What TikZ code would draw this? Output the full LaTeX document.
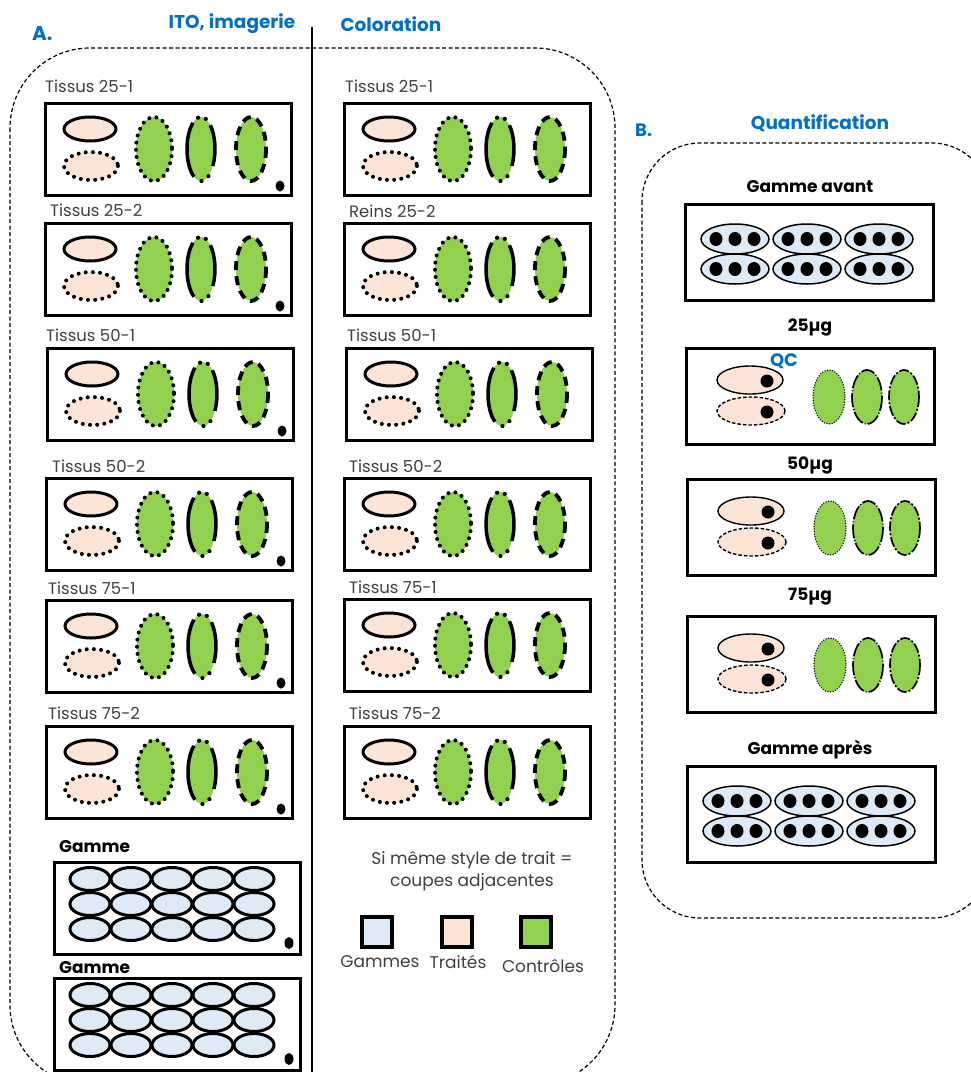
\documentclass[tikz,border=0pt]{standalone}
\usepackage{fontspec}
\setmainfont{Poppins}
\definecolor{pinkc}{HTML}{FCE4D6}
\definecolor{greenc}{HTML}{92D050}
\definecolor{bluec}{HTML}{DEEBF7}
\definecolor{titleblue}{HTML}{0070C0}
\definecolor{textgray}{HTML}{404040}
\newcommand{\midgreen}[1]{%
\fill[greenc] (#1) ellipse [x radius=14, y radius=32];
\draw[line width=3.5pt] (#1) ++(120:14 and 32) arc [start angle=120, end angle=235, x radius=14, y radius=32];
\draw[line width=3.5pt] (#1) ++(-48:14 and 32) arc [start angle=-48, end angle=32, x radius=14, y radius=32];
\foreach \ang in {58,88,258,290}{\fill (#1) ++(\ang:14 and 32) circle [radius=2.1];}}
\newcommand{\tslide}[4]{%
\begin{scope}[shift={(#1,#2)}]
\node[boxnode, minimum width=246pt, minimum height=92pt] (#4) at (0,0) {};
\draw[pinkE, solidT] (46,27) ellipse [x radius=26, y radius=12];
\draw[pinkE, dotT] (47,64) ellipse [x radius=27, y radius=14];
\draw[greenE, dotT] (110,47) ellipse [x radius=18, y radius=32];
\midgreen{157,47}
\draw[greenE, dashT] (207,47) ellipse [x radius=15, y radius=32];
\ifnum#3=1 \fill (236,84) ellipse [x radius=4.5, y radius=5.5];\fi
\end{scope}}
\newcommand{\gslide}[3]{%
\begin{scope}[shift={(#1,#2)}]
\node[boxnode, minimum width=246pt, minimum height=92pt] (#3) at (0,0) {};
\foreach \cx in {37,78,119,160,201}{\foreach \cy in {18,43,68}{
\draw[blueE, line width=3pt] (\cx,\cy) ellipse [x radius=20, y radius=11.5];}}
\fill (236,82) ellipse [x radius=4.5, y radius=6];
\end{scope}}
\newcommand{\qslide}[3]{%
\begin{scope}[shift={(#1,#2)}]
\node[boxnode, minimum width=248pt, minimum height=96pt] (#3) at (0,0) {};
\draw[pinkE, line width=1.4pt] (65,33) ellipse [x radius=33, y radius=14];
\draw[pinkE, line width=1.4pt, dash pattern=on 3.5pt off 2pt] (66,64) ellipse [x radius=34, y radius=14];
\fill (82,34) circle [radius=6.5];
\fill (82,65) circle [radius=6.5];
\draw[greenE, line width=1.5pt, dash pattern=on 0pt off 2.6pt, line cap=round] (144,50) ellipse [x radius=16, y radius=27];
\draw[greenE, line width=1.7pt, dash pattern=on 14pt off 2pt on 1pt off 2pt] (182,50) ellipse [x radius=15, y radius=27];
\draw[greenE, line width=1.7pt, dash pattern=on 10pt off 2pt on 2pt off 2pt] (219,50) ellipse [x radius=15, y radius=27];
\end{scope}}
\newcommand{\rslide}[3]{%
\begin{scope}[shift={(#1,#2)}]
\node[boxnode, minimum width=248pt, minimum height=96pt] (#3) at (0,0) {};
\foreach \cx in {51,123,195}{\foreach \cy in {36,66}{
\draw[blueE, line width=1.5pt] (\cx,\cy) ellipse [x radius=34, y radius=15];
\foreach \dx in {-19,0,19}{\fill (\cx+\dx,\cy) ellipse [x radius=6.5, y radius=7];}}}
\end{scope}}
\begin{document}
\begin{tikzpicture}[x=1pt,y=-1pt,
 boxnode/.style={draw=black, line width=2.6pt, anchor=north west, inner sep=0pt, fill=white},
 pinkE/.style={fill=pinkc, draw=black},
 greenE/.style={fill=greenc, draw=black},
 blueE/.style={fill=bluec, draw=black},
 solidT/.style={line width=3pt},
 dotT/.style={line width=4pt, dash pattern=on 0pt off 7.2pt, line cap=round},
 dashT/.style={line width=3.8pt, dash pattern=on 9pt off 6pt},
 lab/.style={font=\fontsize{16.5}{19}\selectfont, text=textgray, inner sep=0pt, anchor=west},
 leg/.style={font=\fontsize{17}{20}\selectfont, text=textgray, inner sep=0pt},
 blab/.style={font=\fontsize{17}{20}\selectfont\bfseries, text=black, inner sep=0pt},
 ttl/.style={font=\fontsize{18.5}{22}\selectfont\bfseries, text=titleblue, inner sep=0pt},
 panel/.style={draw=black, line width=1.2pt, dash pattern=on 4pt off 2.5pt}]
\useasboundingbox (0,0) rectangle (971,1072);
\clip (0,0) rectangle (971,1072);
\fill[white] (0,0) rectangle (971,1072);
% panels
\draw[panel, rounded corners=80pt] (10,48) rectangle (615,1085);
\draw[panel, rounded corners=58pt] (642,143) rectangle (990,918);
\coordinate (divtop) at (312,27);
\coordinate (divbot) at (312,1072);
\draw[line width=1.4pt] (divtop) -- (divbot);
% titles
\node[ttl, anchor=west, font=\fontsize{20}{24}\selectfont\bfseries] (tA) at (32,34) {A.};
\node[ttl] (tito) at (232,24) {ITO, imagerie};
\node[ttl] (tcol) at (391,24) {Coloration};
\node[ttl, anchor=west, font=\fontsize{18}{22}\selectfont\bfseries] (tB) at (635,130) {B.};
\node[ttl] (tq) at (820,123) {Quantification};
% left column
\node[lab] (l1) at (45,86) {Tissus 25-1};
\tslide{44}{102}{1}{bl1}
\node[lab] (l2) at (50,210) {Tissus 25-2};
\tslide{44}{222}{1}{bl2}
\node[lab] (l3) at (46,335) {Tissus 50-1};
\tslide{46}{347}{1}{bl3}
\node[lab] (l4) at (52,466) {Tissus 50-2};
\tslide{45}{477}{1}{bl4}
\node[lab] (l5) at (48,588) {Tissus 75-1};
\tslide{45}{599}{1}{bl5}
\node[lab] (l6) at (48,713) {Tissus 75-2};
\tslide{45}{725}{1}{bl6}
\node[blab, anchor=west] (g1) at (59,847) {Gamme};
\gslide{53}{861}{bg1}
\node[blab, anchor=west] (g2) at (59,968) {Gamme};
\gslide{53}{977}{bg2}
% right column
\node[lab] (r1) at (345,86) {Tissus 25-1};
\tslide{343}{102}{0}{br1}
\node[lab] (r2) at (349,211) {Reins 25-2};
\tslide{343}{222}{0}{br2}
\node[lab] (r3) at (347,335) {Tissus 50-1};
\tslide{345}{347}{0}{br3}
\node[lab] (r4) at (349,466) {Tissus 50-2};
\tslide{343}{477}{0}{br4}
\node[lab] (r5) at (349,587) {Tissus 75-1};
\tslide{343}{598}{0}{br5}
\node[lab] (r6) at (349,713) {Tissus 75-2};
\tslide{343}{725}{0}{br6}
% legend
\node[leg] (leg1) at (472,860) {Si même style de trait =};
\node[leg] (leg2) at (472,882) {coupes adjacentes};
\node[draw=black, line width=3.2pt, fill=bluec, minimum size=30pt, inner sep=0pt] (sq1) at (377,932) {};
\node[draw=black, line width=3.2pt, fill=pinkc, minimum size=30pt, inner sep=0pt] (sq2) at (457,932) {};
\node[draw=black, line width=3.2pt, fill=greenc, minimum size=30pt, inner sep=0pt] (sq3) at (536,932) {};
\node[leg] (lg1) at (380,962) {Gammes};
\node[leg] (lg2) at (458,962) {Traités};
\node[leg] (lg3) at (543,966) {Contrôles};
% panel B
\node[blab] (qa) at (810,187) {Gamme avant};
\rslide{684}{203}{bqa}
\node[blab] (q25) at (810,327) {25µg};
\qslide{685}{347}{bq25}
\node[ttl, font=\fontsize{18}{20}\selectfont\bfseries] (qc) at (784,361) {QC};
\node[blab] (q50) at (810,465) {50µg};
\qslide{686}{478}{bq50}
\node[blab] (q75) at (810,597) {75µg};
\qslide{686}{615}{bq75}
\node[blab] (qp) at (810,750) {Gamme après};
\rslide{686}{765}{bqp}
\end{tikzpicture}
\end{document}
